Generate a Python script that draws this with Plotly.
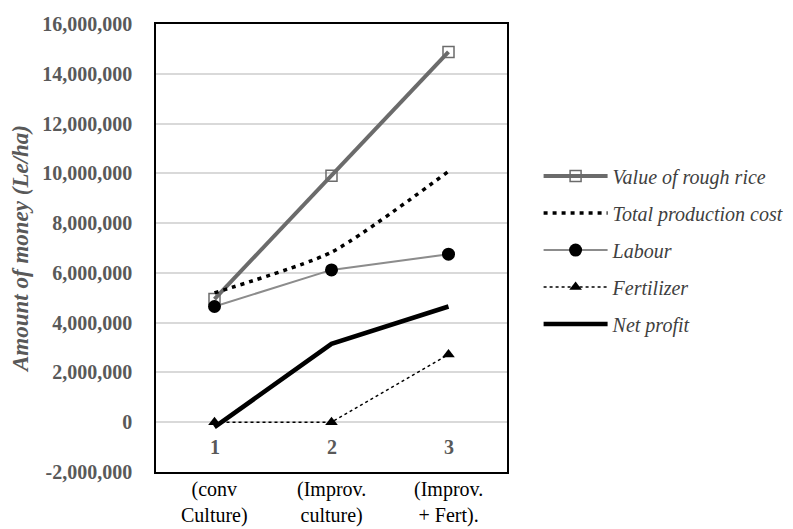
import plotly.graph_objects as go

# Werte
categories = [1, 2, 3]
cat_numbers = ["1", "2", "3"]
cat_labels = ["(conv<br>Culture)", "(Improv.<br>culture)", "(Improv.<br>+ Fert)."]

value_rough_rice = [4950000, 9900000, 14880000]
total_cost = [5200000, 6830000, 10080000]
labour = [4650000, 6120000, 6750000]
fertilizer = [0, 0, 2720000]
net_profit = [-200000, 3150000, 4650000]

y_ticks = list(range(-2000000, 16000001, 2000000))
y_ticktext = [f"{v:,}" for v in y_ticks]

SERIF = "Liberation Serif, Times New Roman, serif"
GREY_TEXT = "#595959"

fig = go.Figure()

series = [
    dict(name="Value of rough rice", y=value_rough_rice,
         line=dict(color="#6b6b6b", width=4),
         marker=dict(symbol="square-open", size=11, color="#6b6b6b", line=dict(width=1.5)),
         mode="lines+markers"),
    dict(name="Total production cost", y=total_cost,
         line=dict(color="black", width=3.5, dash="4px,5px", shape="spline", smoothing=0.6),
         mode="lines"),
    dict(name="Labour", y=labour,
         line=dict(color="#8c8c8c", width=2),
         marker=dict(symbol="circle", size=13, color="black"),
         mode="lines+markers"),
    dict(name="Fertilizer", y=fertilizer,
         line=dict(color="black", width=1.5, dash="dot"),
         marker=dict(symbol="triangle-up", size=11, color="black"),
         mode="lines+markers"),
    dict(name="Net profit", y=net_profit,
         line=dict(color="black", width=4.5),
         mode="lines"),
]

for i, s in enumerate(series):
    fig.add_trace(go.Scatter(x=categories, legendgroup=f"g{i}", **s))

# Kategorienummern am Nullpunkt
for c, t in zip(categories, cat_numbers):
    fig.add_annotation(x=c, y=0, text=f"<b>{t}</b>", showarrow=False, yshift=-25,
                       font=dict(family=SERIF, size=20, color=GREY_TEXT))

# Beschriftung unter dem Diagramm
for c, t in zip(categories, cat_labels):
    fig.add_annotation(x=c, y=0, yref="paper", yanchor="top", text=t, showarrow=False,
                       yshift=-4, font=dict(family=SERIF, size=20, color="black"))

fig.update_layout(
    width=793, height=529,
    margin=dict(l=148, r=294, t=16, b=65),
    paper_bgcolor="white", plot_bgcolor="white",
    font=dict(family=SERIF, color=GREY_TEXT),
    showlegend=True,
    legend=dict(x=1.09, y=0.704, xanchor="left", yanchor="top",
                font=dict(family=SERIF, size=20, color="#404040", style="italic"),
                tracegroupgap=8, itemwidth=64, bgcolor="rgba(0,0,0,0)"),
    xaxis=dict(range=[0.5, 3.5], showticklabels=False, showgrid=False, zeroline=False,
               showline=True, linecolor="black", linewidth=1.5, mirror=True, ticks=""),
    yaxis=dict(range=[-2000000, 16000000], tickvals=y_ticks, ticktext=y_ticktext,
               automargin=False,
               showgrid=True, gridcolor="#d9d9d9", gridwidth=1.5,
               zeroline=True, zerolinecolor="#d9d9d9", zerolinewidth=1.5,
               showline=True, linecolor="black", linewidth=1.5, mirror=True,
               ticks="", ticklabelstandoff=18,
               tickfont=dict(family=SERIF, size=20, color=GREY_TEXT, weight="bold"),
               title=dict(text="Amount of money (Le/ha)", standoff=8,
                          font=dict(family=SERIF, size=23, color=GREY_TEXT,
                                    style="italic", weight="bold"))),
)

fig.write_html("out.html")
